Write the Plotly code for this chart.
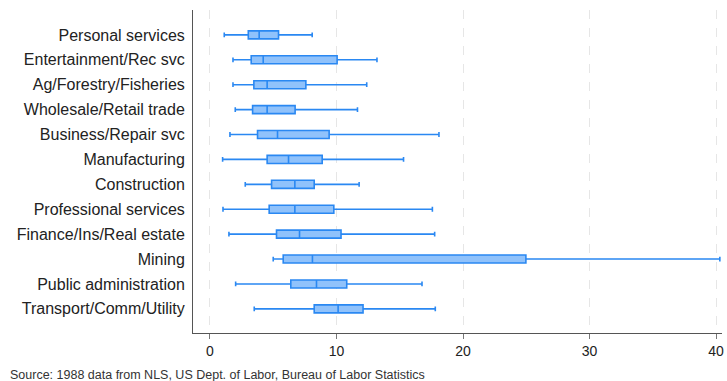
import plotly.graph_objects as go

categories = [
    "Personal services", "Entertainment/Rec svc", "Ag/Forestry/Fisheries",
    "Wholesale/Retail trade", "Business/Repair svc", "Manufacturing",
    "Construction", "Professional services", "Finance/Ins/Real estate",
    "Mining", "Public administration", "Transport/Comm/Utility",
]
lower = [1.13, 1.82, 1.82, 2.00, 1.58, 1.00, 2.79, 1.03, 1.50, 5.00, 2.03, 3.50]
q1 = [3.03, 3.26, 3.47, 3.37, 3.76, 4.52, 4.87, 4.68, 5.26, 5.79, 6.39, 8.24]
median = [3.89, 4.21, 4.52, 4.52, 5.34, 6.21, 6.71, 6.71, 7.08, 8.10, 8.42, 10.13]
q3 = [5.42, 10.05, 7.58, 6.73, 9.42, 8.87, 8.24, 9.79, 10.36, 24.97, 10.81, 12.10]
upper = [8.08, 13.20, 12.39, 11.66, 18.10, 15.30, 11.79, 17.58, 17.76, 40.30, 16.76, 17.81]
x_ticks = [0, 10, 20, 30, 40]
source_note = "Source: 1988 data from NLS, US Dept. of Labor, Bureau of Labor Statistics"

FONT = "Liberation Sans, Arial, sans-serif"

fig = go.Figure()
fig.add_trace(go.Box(
    y=categories,
    q1=q1, median=median, q3=q3,
    lowerfence=lower, upperfence=upper,
    orientation="h",
    fillcolor="#90C2FB",
    line=dict(color="#2A88F2", width=1.6),
    whiskerwidth=0.6,
    boxpoints=False,
    showlegend=False,
    hoverinfo="skip",
))

fig.update_layout(
    width=727, height=381,
    margin=dict(l=193, r=3, t=10, b=48),
    paper_bgcolor="white", plot_bgcolor="white",
    boxgap=0.54,
    font=dict(family=FONT, size=14, color="#222222"),
    xaxis=dict(
        range=[-1.34, 40.47],
        tickvals=x_ticks,
        showgrid=True, gridcolor="#E6E6E6", griddash="dash", gridwidth=1,
        zeroline=False,
        showline=True, linecolor="#555555", linewidth=1,
        ticks="outside", ticklen=5, tickcolor="#777777",
        tickfont=dict(family=FONT, size=14, color="#222222"),
    ),
    yaxis=dict(
        type="category",
        categoryorder="array", categoryarray=categories,
        range=[11.97, -1.0],
        showgrid=False, zeroline=False,
        showline=True, linecolor="#555555", linewidth=1,
        ticks="", ticklabelstandoff=4,
        tickfont=dict(family=FONT, size=16, color="#222222"),
    ),
    annotations=[dict(
        text=source_note, xref="paper", yref="paper",
        x=(7 - 193) / (727 - 193 - 3), y=-(375 - 333) / (381 - 10 - 48),
        xanchor="left", yanchor="middle", showarrow=False,
        font=dict(family=FONT, size=12.5, color="#333333"),
    )],
)

fig.write_html(
    "out.html",
    config={"displayModeBar": False},
    post_script="document.body.style.margin='0';document.body.style.overflow='hidden';",
)
